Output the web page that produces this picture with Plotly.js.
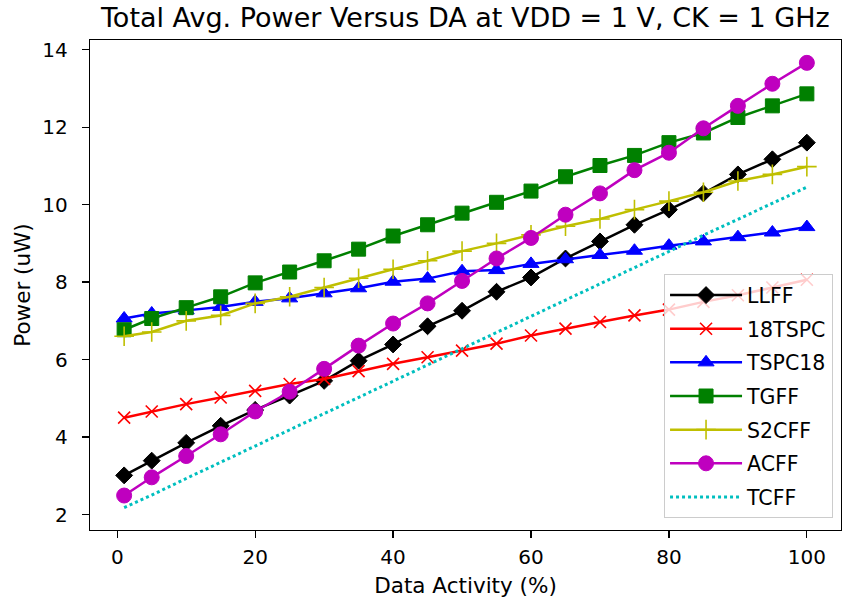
<!DOCTYPE html>
<html>
<head>
<meta charset="utf-8">
<script src="https://cdn.plot.ly/plotly-3.0.1.min.js"></script>
<style>html,body{margin:0;padding:0;background:#fff;}#chart{width:843px;height:605px;}</style>
</head>
<body>
<div id="chart"></div>
<script>
const dataActivity = [1,5,10,15,20,25,30,35,40,45,50,55,60,65,70,75,80,85,90,95,100];
const LLFF   = [3.01,3.39,3.85,4.29,4.70,5.07,5.45,5.97,6.39,6.86,7.26,7.75,8.12,8.61,9.05,9.48,9.87,10.29,10.78,11.17,11.60];
const TSPC18a = [4.50,4.66,4.85,5.02,5.19,5.37,5.50,5.70,5.89,6.06,6.23,6.41,6.62,6.80,6.97,7.14,7.29,7.49,7.66,7.86,8.06]; // 18TSPC
const TSPC18 = [7.06,7.19,7.27,7.36,7.49,7.58,7.71,7.84,8.01,8.09,8.28,8.31,8.47,8.59,8.70,8.81,8.94,9.05,9.16,9.28,9.42];
const TGFF   = [6.77,7.06,7.34,7.62,7.98,8.26,8.55,8.85,9.19,9.48,9.78,10.06,10.35,10.72,11.01,11.27,11.60,11.85,12.25,12.55,12.86];
const S2CFF  = [6.60,6.71,7.00,7.14,7.45,7.62,7.86,8.10,8.33,8.55,8.80,9.00,9.22,9.44,9.63,9.87,10.09,10.32,10.61,10.78,10.98];
const ACFF   = [2.49,2.96,3.51,4.07,4.66,5.17,5.76,6.36,6.93,7.45,8.03,8.61,9.14,9.74,10.29,10.89,11.34,11.97,12.55,13.12,13.66];
const TCFF   = [2.18,2.50,2.93,3.35,3.77,4.18,4.60,5.02,5.44,5.86,6.28,6.70,7.12,7.54,7.96,8.38,8.80,9.21,9.62,10.03,10.45];

const seriesNames = ["LLFF","18TSPC","TSPC18","TGFF","S2CFF","ACFF","TCFF"];
const xTicks = [0,20,40,60,80,100];
const yTicks = [2,4,6,8,10,12,14];

const FONT = "DejaVu Sans, sans-serif";
const LW = 2.5;

function tr(name, y, color, symbol, size, mlw) {
  return {
    x: dataActivity, y: y, name: name, legendgroup: name, type: "scatter", mode: "lines+markers",
    line: {color: color, width: LW},
    marker: {symbol: symbol, size: size, color: color, line: {color: color, width: mlw || 1}}
  };
}

const traces = [
  tr(seriesNames[0], LLFF, "#000000", "diamond", 13),
  tr(seriesNames[1], TSPC18a, "#ff0000", "x-thin", 12, 1.6),
  tr(seriesNames[2], TSPC18, "#0000ff", "triangle-up", 14),
  tr(seriesNames[3], TGFF, "#008000", "square", 14),
  tr(seriesNames[4], S2CFF, "#bfbf00", "cross-thin", 14, 1.6),
  tr(seriesNames[5], ACFF, "#bf00bf", "circle", 15),
  {x: dataActivity, y: TCFF, name: seriesNames[6], legendgroup: seriesNames[6], type: "scatter", mode: "lines",
   line: {color: "#00bfbf", width: 3, dash: "dot"}}
];

const axisCommon = {
  showline: true, mirror: true, linecolor: "#000", linewidth: 1.2,
  showgrid: false, zeroline: false,
  ticks: "outside", ticklen: 7, tickwidth: 1.2, tickcolor: "#000",
  tickfont: {family: FONT, size: 20, color: "#000"}
};

const layout = {
  width: 843, height: 605,
  margin: {l: 90, r: 2, t: 40, b: 75},
  paper_bgcolor: "#fff", plot_bgcolor: "#fff",
  font: {family: FONT, color: "#000"},
  title: {text: "Total Avg. Power Versus DA at VDD = 1 V, CK = 1 GHz",
          font: {family: FONT, size: 27, color: "#000"},
          x: 0.552, xanchor: "center", y: 0.971, yanchor: "middle"},
  xaxis: Object.assign({}, axisCommon, {
    range: [-3.95, 104.95], tickvals: xTicks, ticktext: xTicks.map(String),
    ticklabelstandoff: 2,
    title: {text: "Data Activity (%)", font: {family: FONT, size: 21.5, color: "#000"}, standoff: 9}
  }),
  yaxis: Object.assign({}, axisCommon, {
    range: [1.6, 14.25], tickvals: yTicks, ticktext: yTicks.map(String),
    ticklabelstandoff: 10,
    title: {text: "Power (uW)", font: {family: FONT, size: 21.5, color: "#000"}, standoff: 5}
  }),
  legend: {
    x: 0.9894, xanchor: "right", y: 0.024, yanchor: "bottom",
    bgcolor: "rgba(255,255,255,0.8)", bordercolor: "#cccccc", borderwidth: 1,
    font: {family: FONT, size: 20.5, color: "#000"},
    itemwidth: 72, tracegroupgap: 4, traceorder: "grouped"
  },
  showlegend: true
};

Plotly.newPlot("chart", traces, layout, {displayModeBar: false, staticPlot: true});
</script>
</body>
</html>
